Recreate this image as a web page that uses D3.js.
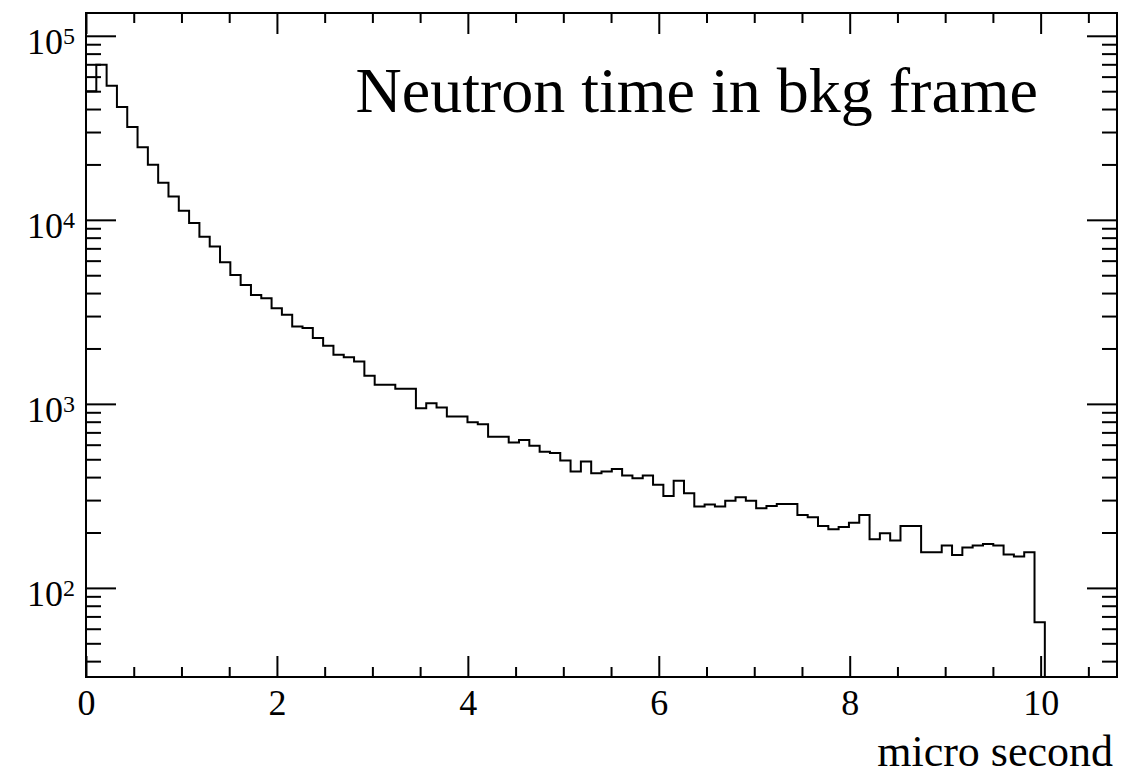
<!DOCTYPE html>
<html>
<head>
<meta charset="utf-8">
<script src="https://cdn.jsdelivr.net/npm/d3@7"></script>
<style>
    body { margin: 0; background: #fff; }
    svg { display: block; }
    text { font-family: "Liberation Serif", "DejaVu Serif", serif; fill: #000; }
</style>
</head>
<body>
<svg id="chart" width="1143" height="777"></svg>
<script>
// histogram: 100 bins of 0.108 us between 0 and 10.8 us
const xRange = [0, 10.8];
const yRange = [32.8, 133000];
const binCounts = [
    50000, 69500, 53500, 41000, 31900, 24800, 19900, 15900, 13400, 11200,
    9600, 8100, 7160, 5890, 5020, 4430, 3910, 3750, 3310, 3050,
    2630, 2580, 2280, 2070, 1850, 1790, 1700, 1420, 1270, 1270,
    1210, 1210, 947, 1008, 955, 853, 853, 795, 775, 663,
    663, 616, 637, 593, 550, 540, 492, 429, 486, 420,
    429, 443, 408, 394, 408, 363, 316, 382, 327, 277,
    284, 277, 298, 311, 298, 271, 279, 286, 286, 249,
    242, 217, 208, 214, 226, 249, 184, 198, 181, 217,
    217, 156, 156, 170, 151, 166, 170, 173, 170, 152,
    148, 156, 65, 0, 0, 0, 0, 0, 0, 0
];
const xMajorTicks = [0, 2, 4, 6, 8, 10];
const xMinorTicks = [0.5, 1, 1.5, 2.5, 3, 3.5, 4.5, 5, 5.5, 6.5, 7, 7.5, 8.5, 9, 9.5, 10.5];
const yMajorTicks = [1e2, 1e3, 1e4, 1e5];
const yExponents = ['2', '3', '4', '5'];
const titleText = 'Neutron time in bkg frame';
const xTitle = 'micro second';

const frame = { left: 86, right: 1117, top: 13, bottom: 677 };
const svg = d3.select('#chart');

const x = d3.scaleLinear().domain(xRange).range([frame.left, frame.right]);
const y = d3.scaleLog().domain(yRange).range([frame.bottom, frame.top]);

// minor log ticks 2..9 of every decade inside the range
const yMinorTicks = [];
for (let e = 1; e <= 5; e++) {
    for (let m = 2; m <= 9; m++) {
        const v = m * Math.pow(10, e);
        if (v >= yRange[0] && v <= yRange[1]) yMinorTicks.push(v);
    }
}

function styleAxis(g) {
    g.select('.domain').remove();
    g.selectAll('line').attr('stroke', '#000').attr('stroke-width', 2);
}

// bottom / top ticks
svg.append('g')
    .attr('transform', `translate(0,${frame.bottom})`)
    .call(d3.axisBottom(x).tickValues(xMinorTicks).tickSize(-10).tickSizeOuter(0).tickFormat(''))
    .call(styleAxis);

const xAxis = svg.append('g')
    .attr('transform', `translate(0,${frame.bottom})`)
    .call(d3.axisBottom(x).tickValues(xMajorTicks).tickSize(-21).tickSizeOuter(0).tickPadding(12))
    .call(styleAxis);
xAxis.selectAll('text')
    .attr('font-size', 36)
    .attr('font-family', '"Liberation Serif", serif')
    .attr('fill', '#000');

svg.append('g')
    .attr('transform', `translate(0,${frame.top})`)
    .call(d3.axisTop(x).tickValues(xMinorTicks).tickSize(-10).tickSizeOuter(0).tickFormat(''))
    .call(styleAxis);
svg.append('g')
    .attr('transform', `translate(0,${frame.top})`)
    .call(d3.axisTop(x).tickValues(xMajorTicks).tickSize(-21).tickSizeOuter(0).tickFormat(''))
    .call(styleAxis);

// left / right ticks
svg.append('g')
    .attr('transform', `translate(${frame.left},0)`)
    .call(d3.axisLeft(y).tickValues(yMinorTicks).tickSize(-15).tickSizeOuter(0).tickFormat(''))
    .call(styleAxis);

const yAxis = svg.append('g')
    .attr('transform', `translate(${frame.left},0)`)
    .call(d3.axisLeft(y).tickValues(yMajorTicks).tickSize(-30).tickSizeOuter(0).tickPadding(11).tickFormat(''))
    .call(styleAxis);

yAxis.selectAll('.tick text')
    .attr('dy', null)
    .attr('y', 18)
    .attr('font-size', 36)
    .attr('font-family', '"Liberation Serif", serif')
    .attr('fill', '#000')
    .each(function(d, i) {
        const t = d3.select(this);
        t.append('tspan').text('10');
        t.append('tspan').attr('font-size', 24).attr('dy', -10).text(yExponents[i]);
    });

svg.append('g')
    .attr('transform', `translate(${frame.right},0)`)
    .call(d3.axisRight(y).tickValues(yMinorTicks).tickSize(-15).tickSizeOuter(0).tickFormat(''))
    .call(styleAxis);
svg.append('g')
    .attr('transform', `translate(${frame.right},0)`)
    .call(d3.axisRight(y).tickValues(yMajorTicks).tickSize(-30).tickSizeOuter(0).tickFormat(''))
    .call(styleAxis);

// histogram outline
const binWidth = (xRange[1] - xRange[0]) / binCounts.length;
const yOf = v => v > 0 ? Math.min(y(v), frame.bottom) : frame.bottom;

let pathD = `M${x(0)},${yOf(binCounts[0])}`;
binCounts.forEach((c, i) => {
    const x1 = x((i + 1) * binWidth);
    pathD += `H${x1}`;
    if (i < binCounts.length - 1) pathD += `V${yOf(binCounts[i + 1])}`;
});

svg.append('clipPath').attr('id', 'frame-clip')
    .append('rect')
    .attr('x', frame.left).attr('y', frame.top)
    .attr('width', frame.right - frame.left).attr('height', frame.bottom - frame.top);

svg.append('path')
    .attr('d', pathD)
    .attr('clip-path', 'url(#frame-clip)')
    .attr('fill', 'none')
    .attr('stroke', '#000')
    .attr('stroke-width', 2);

// frame
svg.append('rect')
    .attr('x', frame.left).attr('y', frame.top)
    .attr('width', frame.right - frame.left).attr('height', frame.bottom - frame.top)
    .attr('fill', 'none')
    .attr('stroke', '#000')
    .attr('stroke-width', 2);

// texts
svg.append('text')
    .attr('x', 1038).attr('y', 112)
    .attr('text-anchor', 'end')
    .attr('font-size', 64)
    .text(titleText);

svg.append('text')
    .attr('x', 1113).attr('y', 766)
    .attr('text-anchor', 'end')
    .attr('font-size', 44)
    .text(xTitle);
</script>
</body>
</html>
